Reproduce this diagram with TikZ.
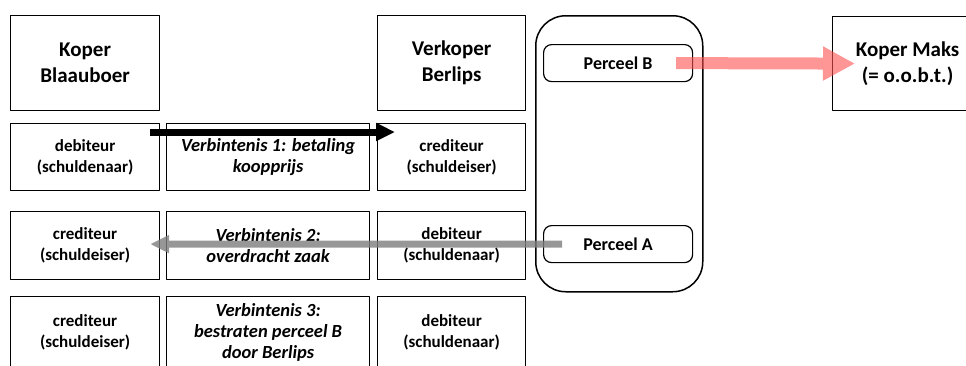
\documentclass[tikz,border=0pt]{standalone}
\usepackage{fontspec}
\setmainfont{Carlito}
\usetikzlibrary{arrows.meta}
\begin{document}
\begin{tikzpicture}[x=1pt,y=-1pt,line join=round]
	\tikzset{
		vak/.style={draw,line width=1.2pt,anchor=north west,inner sep=0pt,align=center,font=\bfseries\fontsize{17}{21}\selectfont},
		kopvak/.style={vak,font=\bfseries\fontsize{21}{26}\selectfont},
		perceel/.style={vak,rounded corners=8pt,minimum width=149pt,minimum height=37pt,font=\bfseries\fontsize{18}{22}\selectfont},
		pijl/.style={line width=7pt,-{Triangle[length=19pt,width=17pt]}}
	}
	\useasboundingbox (0,0) rectangle (966,365);
	\node[kopvak,minimum width=149pt,minimum height=95pt] (koper) at (10,15) {Koper\\Blaauboer};
	\node[kopvak,minimum width=148pt,minimum height=95pt] (verkoper) at (377,15) {Verkoper\\Berlips};
	\foreach \r/\y/\h/\links/\midden/\rechts in {
		1/123/67/{debiteur\\(schuldenaar)}/{Verbintenis 1: betaling\\koopprijs}/{crediteur\\(schuldeiser)},
		2/211/68/{crediteur\\(schuldeiser)}/{Verbintenis 2:\\overdracht zaak}/{debiteur\\(schuldenaar)},
		3/296/72/{crediteur\\(schuldeiser)}/{Verbintenis 3:\\bestraten perceel B\\door Berlips}/{debiteur\\(schuldenaar)}}{
		\node[vak,minimum width=149pt,minimum height=\h pt] (links\r) at (10,\y) {\links};
		\node[vak,minimum width=203pt,minimum height=\h pt,font=\bfseries\itshape\fontsize{18.5}{21}\selectfont] (midden\r) at (166,\y) {\midden};
		\node[vak,minimum width=148pt,minimum height=\h pt] (rechts\r) at (377,\y) {\rechts};
	}
	% grond met de twee percelen
	\node[vak,rounded corners=30pt,line width=1.5pt,minimum width=167pt,minimum height=276pt] (grond) at (535,15) {};
	\node[perceel] (percB) at (543,44) {Perceel B};
	\node[perceel] (percA) at (543,225) {Perceel A};
	\node[kopvak,minimum width=150pt,minimum height=94pt] (maks) at (832,16) {Koper Maks\\(= o.o.b.t.)};
	% pijlen
	\draw[pijl] ([xshift=-10pt,yshift=-9pt]links1.north east) -- ([xshift=18pt,yshift=-9pt]rechts1.north west);
	\coordinate (g2) at (links2.east |- percA.west);
	\begin{scope}[transparency group,opacity=0.8]
		\draw[pijl,color={rgb,255:red,125;green,125;blue,125}] ([xshift=19pt]percA.west) -- ([xshift=-10pt]g2);
	\end{scope}
	\begin{scope}[transparency group,opacity=0.6]
		\draw[line width=12pt,color={rgb,255:red,255;green,80;blue,80},-{Triangle[length=32pt,width=32pt]}] ([xshift=-17pt]percB.east) -- ([xshift=23pt]maks.west);
	\end{scope}
\end{tikzpicture}
\end{document}
